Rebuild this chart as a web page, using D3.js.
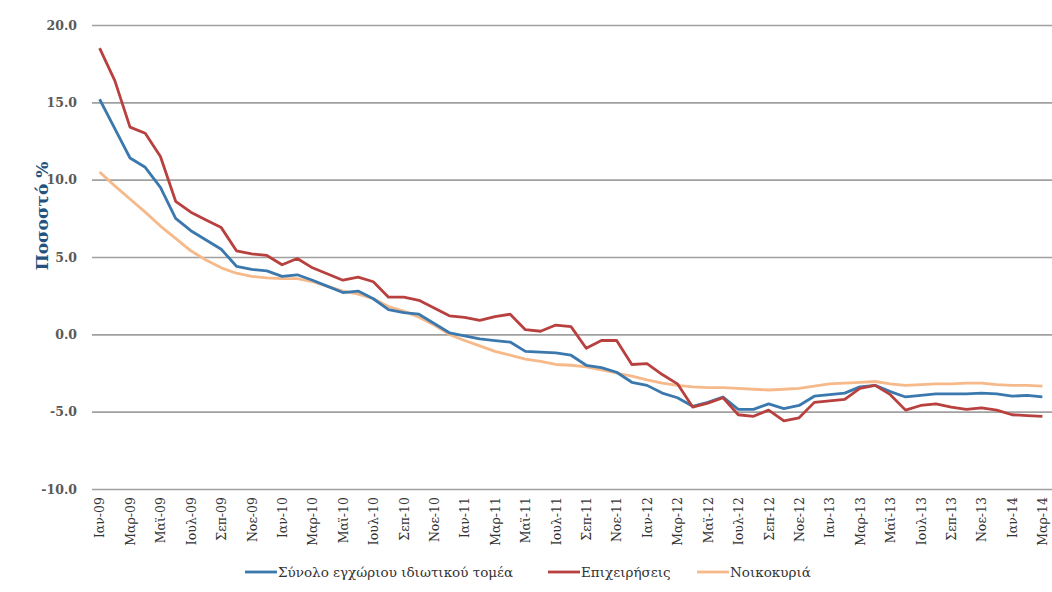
<!DOCTYPE html>
<html>
<head>
  <meta charset="utf-8">
  <title>Πιστωτική επέκταση</title>
  <style>
    body { margin: 0; background: #fff; }
    text { font-family: "DejaVu Serif", "Liberation Serif", serif; }
  </style>
</head>
<body>
  <div id="chart"></div>
  <script src="https://cdn.jsdelivr.net/npm/d3@7"></script>
  <script>

    // months Ιαν-09 .. Μαρ-14
    let monthNames = ['Ιαν', 'Φεβ', 'Μαρ', 'Απρ', 'Μαϊ', 'Ιουν', 'Ιουλ', 'Αυγ', 'Σεπ', 'Οκτ', 'Νοε', 'Δεκ'];
    let years = ['09', '10', '11', '12', '13', '14'];
    let months = [];
    years.forEach(function(y) {
      monthNames.forEach(function(m) { months.push(m + '-' + y); });
    });
    months = months.slice(0, 63);

    let yTicks = [20, 15, 10, 5, 0, -5, -10];

    let totalSeries = [15.2, 13.3, 11.4, 10.8, 9.5, 7.5, 6.7, 6.1, 5.5, 4.4, 4.2, 4.1,
      3.75, 3.85, 3.5, 3.1, 2.7, 2.8, 2.3, 1.6, 1.4, 1.3, 0.7, 0.1,
      -0.1, -0.3, -0.4, -0.5, -1.1, -1.15, -1.2, -1.35, -2.0, -2.15, -2.45, -3.1,
      -3.3, -3.8, -4.1, -4.65, -4.4, -4.05, -4.85, -4.85, -4.5, -4.8, -4.6, -4.0,
      -3.9, -3.8, -3.4, -3.3, -3.7, -4.05, -3.95, -3.85, -3.85, -3.85, -3.8, -3.85,
      -4.0, -3.95, -4.05];

    let businessSeries = [18.5, 16.4, 13.4, 13.0, 11.5, 8.6, 7.9, 7.4, 6.9, 5.4, 5.2, 5.1,
      4.5, 4.9, 4.3, 3.9, 3.5, 3.7, 3.4, 2.4, 2.4, 2.2, 1.7, 1.2,
      1.1, 0.9, 1.15, 1.3, 0.3, 0.2, 0.6, 0.5, -0.9, -0.4, -0.4, -1.95,
      -1.9, -2.6, -3.2, -4.7, -4.45, -4.1, -5.2, -5.3, -4.9, -5.6, -5.4, -4.4,
      -4.3, -4.2, -3.5, -3.3, -3.9, -4.9, -4.6, -4.5, -4.7, -4.85, -4.75, -4.9,
      -5.2, -5.25, -5.3];

    let householdSeries = [10.5, 9.6, 8.75, 7.9, 7.0, 6.2, 5.4, 4.8, 4.3, 3.95, 3.75, 3.65,
      3.6, 3.6, 3.4, 3.1, 2.8, 2.6, 2.3, 1.8, 1.5, 1.1, 0.6, 0.0,
      -0.4, -0.75, -1.1, -1.35, -1.6, -1.75, -1.95, -2.0, -2.1, -2.3, -2.5, -2.7,
      -2.95, -3.15, -3.3, -3.4, -3.45, -3.45, -3.5, -3.55, -3.6, -3.55, -3.5, -3.35,
      -3.2, -3.15, -3.1, -3.05, -3.2, -3.3, -3.25, -3.2, -3.2, -3.15, -3.15, -3.25,
      -3.3, -3.3, -3.35];

    let seriesNames = ['Σύνολο εγχώριου ιδιωτικού τομέα', 'Επιχειρήσεις', 'Νοικοκυριά'];
    let seriesColors = ['#3b78ad', '#b8403f', '#f6b98a'];
    let seriesValues = [totalSeries, businessSeries, householdSeries];

    let svgWidth = 1052;
    let svgHeight = 592;

    let svg = d3.select('#chart')
      .append('svg')
        .attr('width', svgWidth)
        .attr('height', svgHeight);

    let x = d3.scalePoint()
      .domain(months)
      .range([92, 1050])
      .padding(0.5);

    let y = d3.scaleLinear()
      .domain([-10, 20])
      .range([489, 25]);

    // gridlines + y labels
    let yAxis = d3.axisLeft(y)
      .tickValues(yTicks)
      .tickSize(-(1052 - 92))
      .tickPadding(15)
      .tickFormat(d => d.toFixed(1));

    let gy = svg.append('g')
      .attr('transform', 'translate(92, 0)')
      .call(yAxis);
    gy.select('.domain').remove();
    gy.selectAll('.tick line')
      .attr('stroke', '#a0a0a0')
      .attr('stroke-width', 1.6);
    gy.selectAll('.tick text')
      .style('font-family', '"DejaVu Serif", serif')
      .style('font-size', '12.5px')
      .style('font-weight', 'bold')
      .attr('fill', '#5a5a5a');

    // x labels, every second month
    let xAxis = d3.axisBottom(x)
      .tickValues(months.filter((d, i) => i % 2 === 0))
      .tickSize(0)
      .tickPadding(0);

    let gx = svg.append('g')
      .attr('transform', 'translate(0, 489)')
      .call(xAxis);
    gx.select('.domain').remove();
    gx.selectAll('.tick text')
      .attr('transform', 'rotate(-90)')
      .attr('x', -8)
      .attr('y', 0)
      .attr('dy', '0.35em')
      .style('text-anchor', 'end')
      .style('font-family', '"DejaVu Serif", serif')
      .style('font-size', '12.5px')
      .attr('fill', '#333');

    // y title
    svg.append('text')
      .attr('transform', 'translate(48, 216) rotate(-90)')
      .style('text-anchor', 'middle')
      .style('font-family', '"DejaVu Serif", serif')
      .style('font-size', '17px')
      .style('font-weight', 'bold')
      .attr('fill', '#24527e')
      .text('Ποσοστό %');

    // lines
    let line = d3.line()
      .x((d, i) => x(months[i]))
      .y(d => y(d));

    [2, 0, 1].forEach(function(k) {
      svg.append('path')
        .datum(seriesValues[k])
        .attr('fill', 'none')
        .attr('stroke', seriesColors[k])
        .attr('stroke-width', 2.8)
        .attr('stroke-linejoin', 'round')
        .attr('d', line);
    });

    // legend
    let legendX = [245, 548, 697];
    let legend = svg.selectAll('.legend')
      .data(seriesNames)
      .enter()
      .append('g')
        .attr('class', 'legend')
        .attr('transform', (d, i) => 'translate(' + legendX[i] + ', 572)');

    legend.append('line')
      .attr('x1', 0)
      .attr('x2', 32)
      .attr('stroke', (d, i) => seriesColors[i])
      .attr('stroke-width', 2.8);

    legend.append('text')
      .attr('x', 33)
      .attr('dy', '0.35em')
      .style('font-size', '13.5px')
      .attr('fill', '#333')
      .text(d => d);

  </script>
</body>
</html>
